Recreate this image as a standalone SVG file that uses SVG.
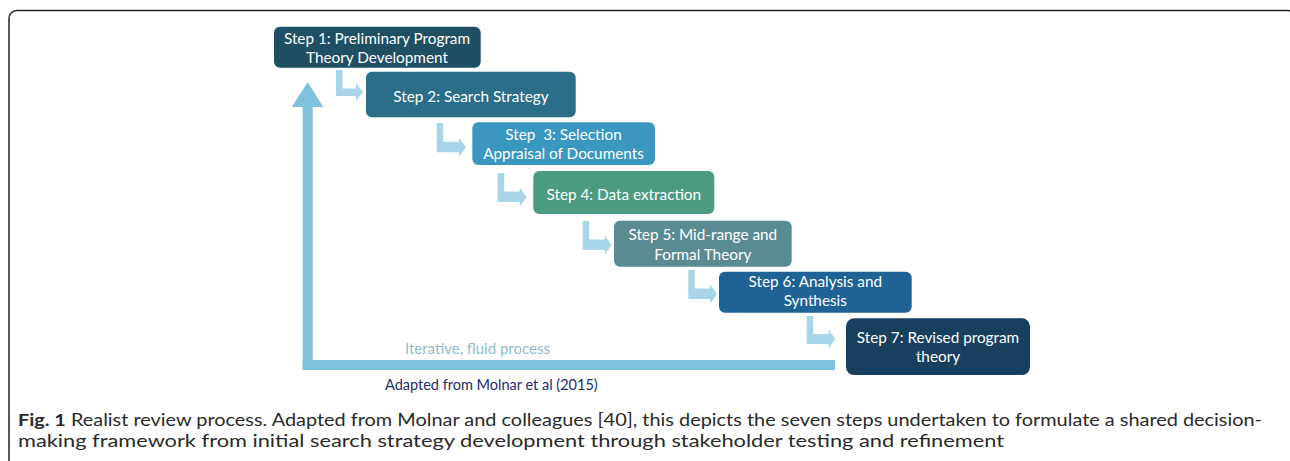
<svg xmlns="http://www.w3.org/2000/svg" width="1290" height="461" viewBox="0 0 1290 461">
<style>
.box{stroke:none}
.lbl{font-family:Lato,"Liberation Sans",sans-serif;font-size:15.3px;fill:#ffffff;text-anchor:middle}
.el{fill:#a8d5e8}
.loop{fill:#7fc0da}
.iter{font-family:Lato,"Liberation Sans",sans-serif;font-size:15px;fill:#8fbccb}
.adapt{font-family:Lato,"Liberation Sans",sans-serif;font-size:14.5px;fill:#1f2d6b}
.cap{font-family:Lato,"Liberation Sans",sans-serif;font-size:17.5px;fill:#2a2a2a}
</style>
<rect x="9" y="10.5" width="1287" height="470" rx="8" fill="#ffffff" stroke="#222222" stroke-width="1.5"/>
<g id="connectors">
  <g id="loop">
    <rect class="loop" x="302.7" y="106" width="10" height="264"/>
    <rect class="loop" x="302.7" y="360" width="532.3" height="10"/>
    <polygon class="loop" points="291.7,107 307.7,82.3 323.3,107"/>
  </g>
  <path class="el" d="M336,70 h6.5 v18.5 h13.5 v-5.5 l7,9 l-7,9 v-5 h-20 z"/>
  <path class="el" d="M436.7,123 h6.5 v18.7 h15.8 v-4 l7,9.5 l-7,9.5 v-4.4 h-22.3 z"/>
  <path class="el" d="M497.7,173 h6.5 v18.5 h15.5 v-4 l7,9.5 l-7,9.5 v-4.5 h-22 z"/>
  <path class="el" d="M582.7,221 h6.5 v18.5 h15.5 v-4 l7,9.5 l-7,9.5 v-4.5 h-22 z"/>
  <path class="el" d="M688.3,270 h6.5 v18.5 h15.2 v-4 l7,9.5 l-7,9.5 v-4.5 h-21.7 z"/>
  <path class="el" d="M806.7,316 h6.5 v18 h15.3 v-4.5 l7,9.5 l-7,9.5 v-4.5 h-21.8 z"/>
</g>
<g id="step1">
  <rect class="box" x="274" y="26.7" width="206.7" height="41" rx="6" fill="#1e4f63"/>
  <text class="lbl" x="377" y="43.5">Step 1: Preliminary Program</text>
  <text class="lbl" x="377" y="62.7">Theory Development</text>
</g>
<g id="step2">
  <rect class="box" x="366" y="71.7" width="209.7" height="45.6" rx="6" fill="#2a6e8a"/>
  <text class="lbl" x="471" y="101.7">Step 2: Search Strategy</text>
</g>
<g id="step3">
  <rect class="box" x="472.3" y="122.3" width="182.7" height="42.7" rx="6" fill="#3a97c0"/>
  <text class="lbl" x="563.5" y="140.2">Step&#160; 3: Selection</text>
  <text class="lbl" x="563.5" y="158.5">Appraisal of Documents</text>
</g>
<g id="step4">
  <rect class="box" x="533.3" y="171" width="181" height="43" rx="6" fill="#4a9b7f"/>
  <text class="lbl" x="623.8" y="199.5">Step 4: Data extraction</text>
</g>
<g id="step5">
  <rect class="box" x="614" y="220.7" width="177.7" height="46" rx="6" fill="#5a8b93"/>
  <text class="lbl" x="702.8" y="240.2">Step 5: Mid-range and</text>
  <text class="lbl" x="702.8" y="259.5">Formal Theory</text>
</g>
<g id="step6">
  <rect class="box" x="719" y="271.7" width="192.7" height="41" rx="6" fill="#1f6295"/>
  <text class="lbl" x="815.3" y="286.9">Step 6: Analysis and</text>
  <text class="lbl" x="815.3" y="305.9">Synthesis</text>
</g>
<g id="step7">
  <rect class="box" x="846" y="318.3" width="184" height="56.7" rx="8" fill="#173f5e"/>
  <text class="lbl" x="938" y="342.9">Step 7: Revised program</text>
  <text class="lbl" x="938" y="361.9">theory</text>
</g>
<text class="iter" x="405" y="353.5">Iterative, fluid process</text>
<text class="adapt" x="385" y="389.5">Adapted from Molnar et al (2015)</text>
<text class="cap" x="18" y="426" textLength="1244" lengthAdjust="spacingAndGlyphs"><tspan font-weight="bold">Fig. 1</tspan> Realist review process. Adapted from Molnar and colleagues [40], this depicts the seven steps undertaken to formulate a shared decision-</text>
<text class="cap" x="18" y="447" textLength="986" lengthAdjust="spacingAndGlyphs">making framework from initial search strategy development through stakeholder testing and refinement</text>
</svg>
